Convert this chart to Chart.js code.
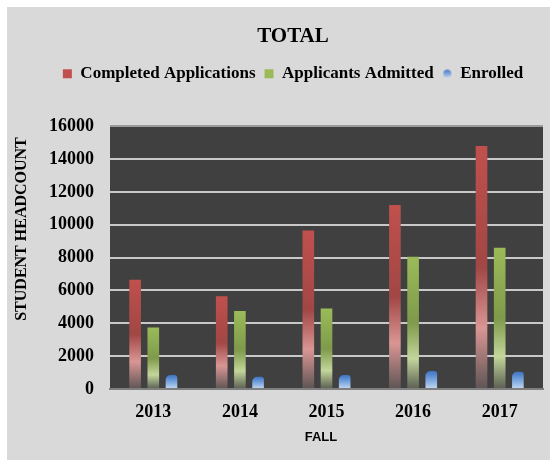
<!DOCTYPE html>
<html>
<head>
<meta charset="utf-8">
<script src="https://cdn.jsdelivr.net/npm/chart.js@4"></script>
<style>
  body { margin: 0; background: #ffffff; }
  #wrap { position: absolute; left: 7px; top: 7px; width: 543px; height: 453px; background: #d9d9d9; }
</style>
</head>
<body>
<div id="wrap"><canvas id="totalChart" width="543" height="453"></canvas></div>
<script>
const years = ['2013', '2014', '2015', '2016', '2017'];
const completedApps = [6650, 5650, 9650, 11200, 14800];
const admitted = [3750, 4750, 4900, 8050, 8600];
const enrolled = [850, 750, 850, 1100, 1050];
const yTicks = [0, 2000, 4000, 6000, 8000, 10000, 12000, 14000, 16000];

const serif = '"Liberation Serif", "Times New Roman", serif';

// vertical gradient running from the top of each bar down to zero
function barGradient(stops) {
    return function(ctx) {
        const chart = ctx.chart;
        if (!chart.chartArea || ctx.type !== 'data') return stops[0][1];
        const y = chart.scales.y;
        const top = y.getPixelForValue(ctx.raw);
        const base = y.getPixelForValue(0);
        const g = chart.ctx.createLinearGradient(0, top, 0, base);
        stops.forEach(s => g.addColorStop(s[0], s[1]));
        return g;
    };
}

// small shaded dot for the Enrolled legend entry
const dot = document.createElement('canvas');
dot.width = 9;
dot.height = 9;
(function() {
    const d = dot.getContext('2d');
    const g = d.createLinearGradient(0, 0, 0, 9);
    g.addColorStop(0, '#3d73c4');
    g.addColorStop(1, '#c6d9f1');
    d.fillStyle = g;
    d.beginPath();
    d.arc(4.5, 4.5, 4, 0, Math.PI * 2);
    d.fill();
})();

const plotBg = {
    id: 'plotBg',
    beforeDraw(chart) {
        const a = chart.chartArea;
        const c = chart.ctx;
        c.save();
        c.fillStyle = '#404040';
        c.fillRect(a.left, a.top, a.right - a.left, a.bottom - a.top);
        c.restore();
    }
};

// extra room under the legend
const legendGap = {
    id: 'legendGap',
    beforeInit(chart) {
        const fit = chart.legend.fit;
        chart.legend.fit = function() {
            fit.bind(chart.legend)();
            this.height += 34;
        };
    }
};

// y title sits above the axis middle in the original, so draw both by hand
const axisTitles = {
    id: 'axisTitles',
    afterDraw(chart) {
        const c = chart.ctx;
        c.save();
        c.fillStyle = '#000';
        c.textAlign = 'center';
        c.textBaseline = 'middle';
        c.font = 'bold 16px ' + serif;
        c.translate(15, 222);
        c.rotate(-Math.PI / 2);
        c.fillText('STUDENT HEADCOUNT', 0, 0);
        c.restore();
        c.save();
        c.fillStyle = '#000';
        c.textAlign = 'center';
        c.textBaseline = 'middle';
        c.font = 'bold 13px "Liberation Sans Narrow", "Liberation Sans", Arial, sans-serif';
        c.fillText('FALL', 314, 430);
        c.restore();
    }
};

const ctx = document.getElementById('totalChart').getContext('2d');

const totalChart = new Chart(ctx, {
    type: 'bar',
    data: {
        labels: years,
        datasets: [{
            label: 'Completed Applications',
            data: completedApps,
            backgroundColor: barGradient([[0, '#c0504d'], [0.5, '#a14745'], [0.75, '#d99694'], [1, '#5e5454']]),
            pointStyle: 'rect'
        }, {
            label: 'Applicants Admitted',
            data: admitted,
            backgroundColor: barGradient([[0, '#9bbb59'], [0.5, '#7e9a4a'], [0.77, '#c3d69b'], [1, '#5a5e52']]),
            pointStyle: 'rect'
        }, {
            label: 'Enrolled',
            data: enrolled,
            backgroundColor: barGradient([[0, '#3d73c4'], [0.5, '#7aa6de'], [1, '#c6d9f1']]),
            borderRadius: { topLeft: 5, topRight: 3 },
            borderSkipped: 'bottom',
            pointStyle: dot
        }]
    },
    plugins: [plotBg, legendGap, axisTitles],
    options: {
        responsive: false,
        animation: false,
        categoryPercentage: 0.63,
        barPercentage: 0.64,
        layout: { padding: { left: 36, right: 7, top: 0, bottom: 0 } },
        plugins: {
            title: {
                display: true,
                text: 'TOTAL',
                color: '#000',
                font: { family: serif, size: 21, weight: 'bold' },
                padding: { top: 17, bottom: 7 }
            },
            legend: {
                labels: {
                    color: '#000',
                    font: { family: serif, size: 17, weight: 'bold' },
                    usePointStyle: true,
                    boxWidth: 9,
                    boxHeight: 9,
                    padding: 9
                }
            },
            tooltip: { enabled: false }
        },
        scales: {
            x: {
                grid: { display: false, drawTicks: false },
                border: { display: true, color: '#7f7f7f', width: 2 },
                ticks: { color: '#000', font: { family: serif, size: 18, weight: 'bold' }, padding: 13 },
                afterFit(scale) { scale.height = 71; }
            },
            y: {
                min: 0,
                max: 16000,
                afterBuildTicks(scale) { scale.ticks = yTicks.map(v => ({ value: v })); },
                grid: {
                    drawTicks: false,
                    lineWidth: 2,
                    color(c) {
                        if (c.tick.value === 0) return '#7f7f7f';
                        if (c.tick.value === 16000) return '#9a9a9a';
                        return '#c8c8c8';
                    }
                },
                border: { display: false },
                ticks: {
                    color: '#000',
                    font: { family: serif, size: 18, weight: 'bold' },
                    padding: 16,
                    callback: v => String(v)
                },
                afterFit(scale) { scale.width = 67; }
            }
        }
    }
});
</script>
</body>
</html>
